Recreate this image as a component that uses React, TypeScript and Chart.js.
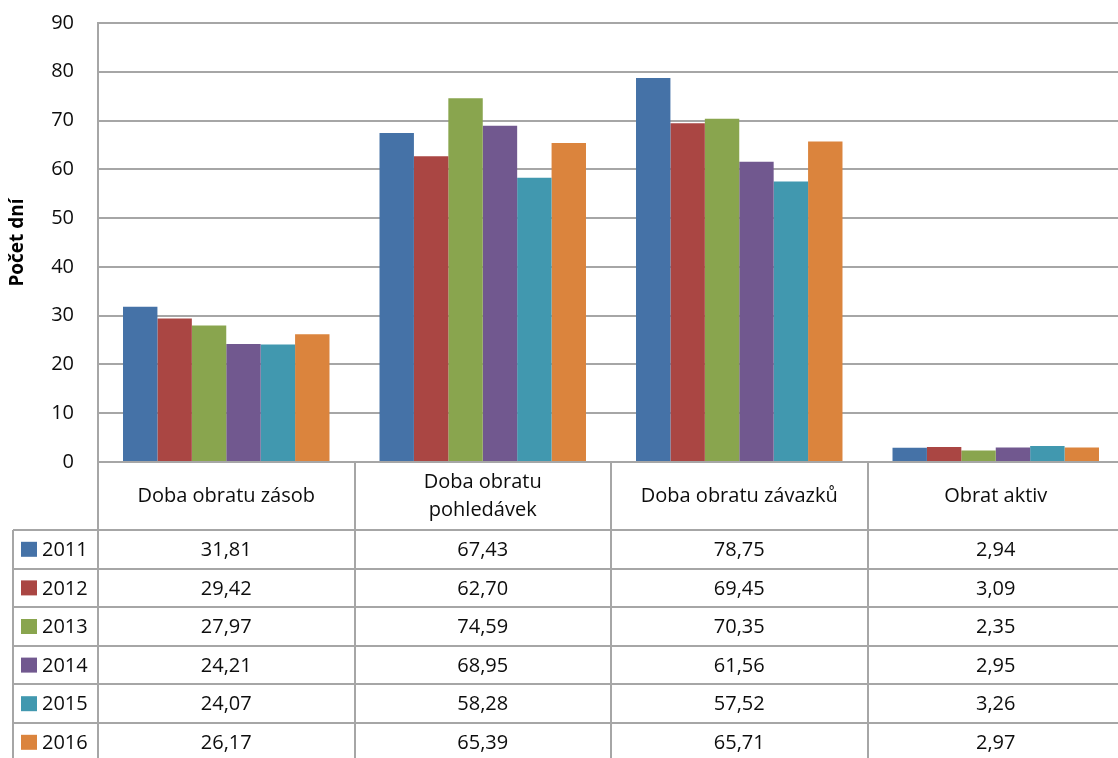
import React, { useEffect, useRef } from "react";
import { Chart, registerables } from "chart.js";

Chart.register(...registerables);

const categories: string[][] = [
  ["Doba obratu zásob"],
  ["Doba obratu", "pohledávek"],
  ["Doba obratu závazků"],
  ["Obrat aktiv"],
];
const years = ["2011", "2012", "2013", "2014", "2015", "2016"];
const colors = ["#4572A7", "#AA4643", "#89A54E", "#71588F", "#4198AF", "#DB843D"];
const v2011 = [31.81, 67.43, 78.75, 2.94];
const v2012 = [29.42, 62.7, 69.45, 3.09];
const v2013 = [27.97, 74.59, 70.35, 2.35];
const v2014 = [24.21, 68.95, 61.56, 2.95];
const v2015 = [24.07, 58.28, 57.52, 3.26];
const v2016 = [26.17, 65.39, 65.71, 2.97];
const series = [v2011, v2012, v2013, v2014, v2015, v2016];
const yTicks = [0, 10, 20, 30, 40, 50, 60, 70, 80, 90];
const yTitle = "Počet dní";

const FONT = "'Open Sans', sans-serif";
const LINE = "#a6a6a6";
const HEADER_H = 68;
const ROW_H = 38.6;
const LEGEND_LEFT = 13;

const fmt = (v: number) => v.toFixed(2).replace(".", ",");

const tablePlugin = {
  id: "dataTable",
  afterDraw(chart: any) {
    const ctx = chart.ctx as CanvasRenderingContext2D;
    const area = chart.chartArea;
    const xs = chart.scales.x;
    const n = categories.length;
    const centers = categories.map((_, i) => xs.getPixelForValue(i));
    const half = (centers[1] - centers[0]) / 2;
    const bounds = [centers[0] - half, ...centers.map((c) => c + half)];
    const top = area.bottom;
    const rowsTop = top + HEADER_H;
    const bottom = rowsTop + ROW_H * years.length;
    ctx.save();
    ctx.strokeStyle = LINE;
    ctx.lineWidth = 2;
    ctx.beginPath();
    bounds.forEach((b, i) => {
      const x = Math.round(b);
      ctx.moveTo(x, i === 0 ? area.top : top);
      ctx.lineTo(x, bottom + 5);
    });
    ctx.moveTo(LEGEND_LEFT, rowsTop);
    ctx.lineTo(LEGEND_LEFT, bottom + 5);
    for (let r = 0; r < years.length; r++) {
      const y = Math.round(rowsTop + r * ROW_H);
      ctx.moveTo(LEGEND_LEFT, y);
      ctx.lineTo(bounds[n], y);
    }
    ctx.stroke();

    ctx.fillStyle = "#0d0d0d";
    ctx.textAlign = "center";
    ctx.textBaseline = "middle";
    ctx.font = `20px ${FONT}`;
    categories.forEach((lines, i) => {
      const cy = top + HEADER_H / 2;
      const lh = 28;
      lines.forEach((t, k) => {
        ctx.fillText(t, centers[i], cy + (k - (lines.length - 1) / 2) * lh);
      });
    });
    years.forEach((yr, r) => {
      const cy = rowsTop + r * ROW_H + ROW_H / 2;
      ctx.fillStyle = colors[r];
      ctx.fillRect(21, cy - 7.5, 16, 15);
      ctx.fillStyle = "#0d0d0d";
      ctx.textAlign = "left";
      ctx.fillText(yr, 42, cy + 1);
      ctx.textAlign = "center";
      series[r].forEach((v, i) => {
        ctx.fillText(fmt(v), centers[i], cy + 1);
      });
    });
    ctx.restore();
  },
};

export default function App() {
  const ref = useRef<HTMLCanvasElement | null>(null);
  useEffect(() => {
    if (!ref.current) return;
    const chart = new Chart(ref.current, {
      type: "bar",
      data: {
        labels: categories.map((c) => c.join(" ")),
        datasets: years.map((yr, i) => ({
          label: yr,
          data: series[i],
          backgroundColor: colors[i],
          borderWidth: 0,
          categoryPercentage: 0.805,
          barPercentage: 1,
        })),
      },
      options: {
        animation: false,
        responsive: false,
        layout: { padding: { top: 23, bottom: 296, left: 0, right: 0 } },
        plugins: { legend: { display: false }, tooltip: { enabled: false } },
        scales: {
          x: { display: false },
          y: {
            min: 0,
            max: 90,
            afterBuildTicks: (s: any) => {
              s.ticks = yTicks.map((v) => ({ value: v }));
            },
            afterFit: (s: any) => {
              s.width = 98;
              s.paddingTop = 0;
              s.paddingBottom = 0;
            },
            grid: { color: LINE, lineWidth: 2, drawTicks: false },
            border: { color: LINE, width: 2 },
            ticks: {
              padding: 24,
              color: "#0d0d0d",
              font: { family: FONT, size: 20 },
            },
            title: {
              display: true,
              text: yTitle,
              color: "#000",
              font: { family: FONT, size: 19, weight: "bold" },
              padding: { top: 6, bottom: 0 },
            },
          },
        },
      },
      plugins: [tablePlugin],
    });
    return () => chart.destroy();
  }, []);
  return (
    <div
      style={{
        position: "fixed",
        left: 0,
        top: 0,
        width: 1118,
        height: 758,
        overflow: "hidden",
        background: "#fff",
      }}
    >
      <canvas ref={ref} width={1124} height={758} style={{ display: "block" }} />
    </div>
  );
}
